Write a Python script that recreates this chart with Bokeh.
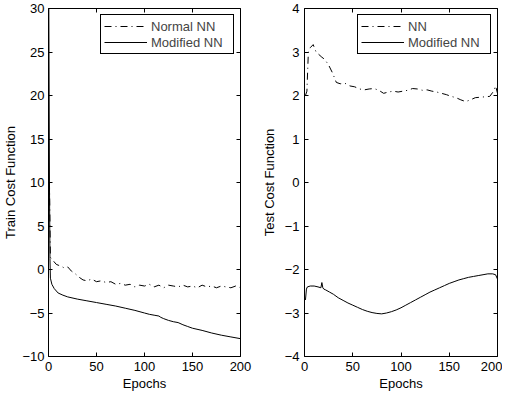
from bokeh.plotting import figure
from bokeh.layouts import row
from bokeh.models import LinearAxis, Range1d, FixedTicker, Legend, LegendItem
from bokeh.embed import file_html
from bokeh.resources import INLINE

# ---------------- data ----------------
train_mod_x = [0, 1, 1.5, 2, 3.5, 6, 10, 15, 20, 30, 40, 50, 60, 70, 80, 90, 100, 105, 110, 115,
               117, 120, 125, 130, 135, 140, 145, 150, 160, 170, 180, 190, 200]
train_mod_y = [40, 10, 1.3, -1.0, -1.7, -2.2, -2.7, -2.95, -3.15, -3.4, -3.6, -3.8, -4.0, -4.2, -4.45,
               -4.7, -5.0, -5.15, -5.25, -5.35, -5.5, -5.65, -5.85, -6.0, -6.1, -6.35, -6.55, -6.75,
               -7.0, -7.3, -7.55, -7.75, -7.95]

train_nn_x = [1, 2, 5, 8, 10, 13, 16, 20, 24, 28, 32, 36, 40, 45, 50, 55, 60, 65, 70, 75, 80, 85,
              90, 95, 100, 105, 110, 115, 120, 125, 130, 135, 140, 145, 150, 155, 160, 165, 170,
              175, 180, 185, 190, 195, 200]
train_nn_y = [10, 1.4, 1.0, 0.6, 0.5, 0.4, 0.2, 0.3, -0.2, -0.5, -0.9, -1.2, -1.3, -1.1, -1.4,
              -1.3, -1.5, -1.4, -1.7, -1.6, -1.8, -1.7, -2.0, -1.8, -1.9, -1.7, -2.0, -1.8, -2.1,
              -1.8, -1.9, -2.0, -1.8, -2.0, -1.9, -2.1, -1.8, -2.0, -1.9, -2.1, -1.9, -2.0, -2.1,
              -1.9, -2.1]

test_nn_x = [1, 2.5, 4, 6, 9, 12, 15, 18, 21, 25, 29, 33, 37, 42, 47, 52, 57, 62, 67, 72, 77, 82,
             87, 92, 97, 102, 107, 112, 117, 122, 127, 132, 137, 142, 147, 152, 157, 162, 167,
             172, 177, 182, 187, 192, 196, 198, 200]
test_nn_y = [2.0, 2.1, 3.0, 3.1, 3.17, 3.0, 2.94, 2.88, 2.83, 2.7, 2.52, 2.3, 2.27, 2.28, 2.22,
             2.2, 2.15, 2.13, 2.15, 2.16, 2.12, 2.05, 2.08, 2.1, 2.08, 2.1, 2.12, 2.16, 2.15, 2.12,
             2.13, 2.1, 2.08, 2.05, 2.02, 1.98, 1.95, 1.9, 1.86, 1.9, 1.95, 1.96, 1.97, 1.98, 2.1,
             2.22, 2.05]

test_mod_x = [1, 2, 3, 6, 10, 14, 17, 18, 19, 20, 22, 26, 30, 35, 40, 45, 50, 55, 60, 65, 70, 75,
              80, 85, 90, 95, 100, 105, 110, 115, 120, 125, 130, 135, 140, 145, 150, 155, 160, 165,
              170, 175, 180, 185, 190, 195, 198, 200]
test_mod_y = [-2.7, -2.45, -2.4, -2.38, -2.38, -2.4, -2.42, -2.3, -2.42, -2.45, -2.47, -2.52,
              -2.57, -2.65, -2.71, -2.77, -2.82, -2.87, -2.92, -2.96, -2.99, -3.01, -3.02, -3.0,
              -2.97, -2.93, -2.88, -2.82, -2.76, -2.7, -2.64, -2.58, -2.52, -2.47, -2.42, -2.37,
              -2.32, -2.28, -2.24, -2.21, -2.18, -2.16, -2.14, -2.12, -2.1, -2.1, -2.12, -2.22]

x_ticks = [0, 50, 100, 150, 200]
train_ticks = [-10, -5, 0, 5, 10, 15, 20, 25, 30]
test_ticks = [-4, -3, -2, -1, 0, 1, 2, 3, 4]
train_labels = ["Normal NN", "Modified NN"]
test_labels = ["NN", "Modified NN"]

FONT = "Liberation Sans"
FS = "13px"
DASH = "7 4 1 4"


def minus(ticks):
    return {t: ("\u2212" + str(abs(t)) if t < 0 else str(t)) for t in ticks}


def make(yr, yticks, ylabel, labels, dxs, dys, sxs, sys, w, bl, br, ylab_standoff, tick_standoff):
    p = figure(width=w, height=394, output_backend="svg", toolbar_location=None,
               x_range=Range1d(0, 200), y_range=Range1d(*yr),
               min_border_left=bl, min_border_right=br, min_border_top=8, min_border_bottom=38,
               x_axis_location=None, y_axis_location=None)
    p.grid.visible = False
    p.outline_line_color = "black"
    p.outline_line_alpha = 1.0
    p.background_fill_color = "white"
    p.border_fill_color = "white"

    def style(ax, labels_on, label_standoff=2, standoff=5):
        ax.minor_tick_line_color = None
        ax.major_tick_in = 4
        ax.major_tick_out = 0
        ax.major_tick_line_color = "black"
        ax.axis_line_color = None
        ax.major_label_text_font = FONT
        ax.axis_label_text_font = FONT
        ax.axis_label_text_font_style = "normal"
        ax.axis_label_text_font_size = FS
        ax.axis_label_text_color = "black"
        if labels_on:
            ax.major_label_text_color = "black"
            ax.major_label_text_font_size = FS
            ax.major_label_standoff = standoff
            ax.axis_label_standoff = label_standoff
        else:
            ax.major_label_text_color = None
            ax.major_label_text_font_size = "1px"
            ax.major_label_standoff = 0
            ax.axis_label_standoff = 0

    bottom = LinearAxis(ticker=FixedTicker(ticks=x_ticks), axis_label="Epochs")
    style(bottom, True, 2, 5)
    p.add_layout(bottom, "below")
    left = LinearAxis(ticker=FixedTicker(ticks=yticks), axis_label=ylabel,
                      major_label_overrides=minus(yticks))
    style(left, True, ylab_standoff, tick_standoff)
    p.add_layout(left, "left")
    top = LinearAxis(ticker=FixedTicker(ticks=x_ticks))
    style(top, False)
    p.add_layout(top, "above")
    right = LinearAxis(ticker=FixedTicker(ticks=yticks))
    style(right, False)
    p.add_layout(right, "right")

    r1 = p.line(dxs, dys, line_color="black", line_width=1, line_dash=DASH)
    r2 = p.line(sxs, sys, line_color="black", line_width=1)

    leg = Legend(items=[LegendItem(label=labels[0], renderers=[r1]),
                        LegendItem(label=labels[1], renderers=[r2])],
                 location="top_right", margin=6, padding=3, spacing=0,
                 glyph_width=43, glyph_height=16, label_height=16, label_width=79,
                 label_standoff=4, label_text_font=FONT, label_text_font_size=FS,
                 border_line_color="black", border_line_width=1, border_line_alpha=1,
                 background_fill_alpha=1)
    p.add_layout(leg, "center")
    return p


p1 = make((-10, 30), train_ticks, "Train Cost Function", train_labels,
          train_nn_x, train_nn_y, train_mod_x, train_mod_y, 256, 48, 16, 1, 4)
p2 = make((-4, 4), test_ticks, "Test Cost Function", test_labels,
          test_nn_x, test_nn_y, test_mod_x, test_mod_y, 246, 48, 5, 5, 5)

layout = row(p1, p2)
open("out.html", "w").write(file_html(layout, INLINE))
